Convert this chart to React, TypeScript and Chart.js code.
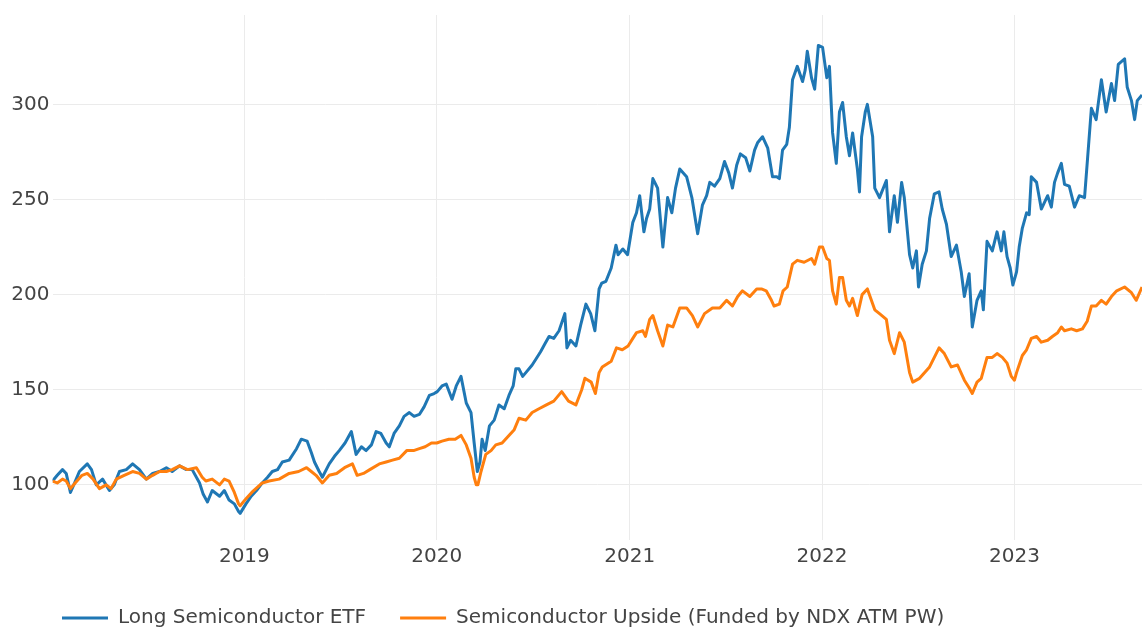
import React, { useEffect, useRef } from "react";
import { Chart, registerables } from "chart.js";

Chart.register(...registerables);

type P = [string, number];

// ---- Long Semiconductor ETF ----
const blue2018: P[] = [["2018-01-02",102],["2018-01-11",105],["2018-01-21",108],["2018-01-28",106],["2018-02-05",96],["2018-02-13",101],["2018-02-22",107],["2018-03-09",111],["2018-03-17",108],["2018-03-26",100],["2018-04-07",103],["2018-04-20",97],["2018-04-29",100],["2018-05-09",107],["2018-05-22",108],["2018-06-03",111],["2018-06-16",108],["2018-06-29",103],["2018-07-11",106],["2018-07-24",107],["2018-08-06",109],["2018-08-17",107],["2018-08-31",110],["2018-09-13",108],["2018-09-24",108],["2018-10-08",101],["2018-10-15",95],["2018-10-23",91],["2018-11-01",97],["2018-11-15",94],["2018-11-24",97],["2018-12-03",92],["2018-12-13",90],["2018-12-21",86],["2018-12-24",85]];
const blue2019: P[] = [["2019-01-04",90],["2019-01-14",94],["2019-01-24",97],["2019-02-04",101],["2019-02-14",104],["2019-02-23",107],["2019-03-05",108],["2019-03-14",112],["2019-03-27",113],["2019-04-10",119],["2019-04-19",124],["2019-04-30",123],["2019-05-08",117],["2019-05-14",112],["2019-05-23",107],["2019-05-29",104],["2019-06-11",111],["2019-06-21",115],["2019-06-30",118],["2019-07-11",122],["2019-07-23",128],["2019-08-01",116],["2019-08-11",120],["2019-08-20",118],["2019-08-30",121],["2019-09-08",128],["2019-09-17",127],["2019-09-27",122],["2019-10-03",120],["2019-10-12",127],["2019-10-22",131],["2019-10-31",136],["2019-11-10",138],["2019-11-19",136],["2019-11-29",137],["2019-12-08",141],["2019-12-18",147],["2019-12-27",148]];
const blue2020: P[] = [["2020-01-02",149],["2020-01-11",152],["2020-01-19",153],["2020-01-30",145],["2020-02-07",152],["2020-02-16",157],["2020-02-26",143],["2020-03-06",138],["2020-03-12",122],["2020-03-18",107],["2020-03-23",112],["2020-03-27",124],["2020-04-02",118],["2020-04-10",131],["2020-04-19",134],["2020-04-28",142],["2020-05-08",140],["2020-05-17",147],["2020-05-25",152],["2020-05-30",161],["2020-06-05",161],["2020-06-12",157],["2020-06-18",159],["2020-06-30",163],["2020-07-07",166],["2020-07-16",170],["2020-07-24",174],["2020-08-01",178],["2020-08-10",177],["2020-08-20",181],["2020-08-31",190],["2020-09-04",172],["2020-09-11",176],["2020-09-21",173],["2020-09-30",184],["2020-10-10",195],["2020-10-19",190],["2020-10-27",181],["2020-11-04",203],["2020-11-09",206],["2020-11-17",207],["2020-11-27",214],["2020-12-06",226],["2020-12-10",221],["2020-12-19",224],["2020-12-28",221]];
const blue2021: P[] = [["2021-01-07",238],["2021-01-14",243],["2021-01-20",252],["2021-01-28",233],["2021-02-02",240],["2021-02-08",245],["2021-02-14",261],["2021-02-23",256],["2021-03-05",225],["2021-03-14",251],["2021-03-22",243],["2021-03-29",256],["2021-04-06",266],["2021-04-19",262],["2021-04-29",251],["2021-05-10",232],["2021-05-19",247],["2021-05-27",252],["2021-06-02",259],["2021-06-11",257],["2021-06-21",261],["2021-06-30",270],["2021-07-08",264],["2021-07-15",256],["2021-07-23",268],["2021-07-30",274],["2021-08-09",272],["2021-08-17",265],["2021-08-26",276],["2021-09-01",280],["2021-09-10",283],["2021-09-20",277],["2021-09-29",262],["2021-10-07",262],["2021-10-12",261],["2021-10-18",276],["2021-10-26",279],["2021-10-31",288],["2021-11-06",313],["2021-11-15",320],["2021-11-25",312],["2021-11-30",318],["2021-12-04",328],["2021-12-12",314],["2021-12-18",308],["2021-12-25",331]];
const blue2022: P[] = [["2022-01-02",330],["2022-01-10",314],["2022-01-15",320],["2022-01-21",285],["2022-01-28",269],["2022-02-03",296],["2022-02-09",301],["2022-02-16",283],["2022-02-22",273],["2022-02-28",285],["2022-03-09",266],["2022-03-13",254],["2022-03-17",283],["2022-03-24",296],["2022-03-28",300],["2022-04-07",283],["2022-04-11",256],["2022-04-20",251],["2022-05-03",260],["2022-05-09",233],["2022-05-18",252],["2022-05-24",238],["2022-06-01",259],["2022-06-06",251],["2022-06-16",221],["2022-06-22",214],["2022-06-29",223],["2022-07-03",204],["2022-07-10",216],["2022-07-18",223],["2022-07-24",240],["2022-08-02",253],["2022-08-11",254],["2022-08-17",245],["2022-08-25",237],["2022-09-03",220],["2022-09-13",226],["2022-09-22",212],["2022-09-28",199],["2022-10-07",211],["2022-10-13",183],["2022-10-22",197],["2022-10-30",202],["2022-11-03",192],["2022-11-10",228],["2022-11-20",223],["2022-11-29",233],["2022-12-07",223],["2022-12-12",233],["2022-12-18",220],["2022-12-24",214],["2022-12-29",205]];
const blue2023: P[] = [["2023-01-05",212],["2023-01-10",225],["2023-01-16",235],["2023-01-24",243],["2023-01-29",242],["2023-02-02",262],["2023-02-12",259],["2023-02-21",245],["2023-03-05",252],["2023-03-12",246],["2023-03-18",259],["2023-03-24",264],["2023-03-31",269],["2023-04-06",258],["2023-04-15",257],["2023-04-25",246],["2023-05-04",252],["2023-05-14",251],["2023-05-19",269],["2023-05-27",298],["2023-06-05",292],["2023-06-15",313],["2023-06-24",296],["2023-07-04",311],["2023-07-10",302],["2023-07-17",321],["2023-07-29",324],["2023-08-03",309],["2023-08-11",302],["2023-08-17",292],["2023-08-22",302],["2023-08-31",305]];

// ---- Semiconductor Upside (Funded by NDX ATM PW) ----
const orange2018: P[] = [["2018-01-02",102],["2018-01-11",101],["2018-01-21",103],["2018-01-28",102],["2018-02-05",98],["2018-02-14",101],["2018-02-27",105],["2018-03-09",106],["2018-03-20",103],["2018-04-01",98],["2018-04-14",100],["2018-04-23",98],["2018-05-03",103],["2018-05-18",105],["2018-06-03",107],["2018-06-16",106],["2018-06-29",103],["2018-07-11",105],["2018-07-24",107],["2018-08-06",107],["2018-08-17",108],["2018-08-31",110],["2018-09-15",108],["2018-10-02",109],["2018-10-13",104],["2018-10-20",102],["2018-11-01",103],["2018-11-15",100],["2018-11-24",103],["2018-12-03",102],["2018-12-13",96],["2018-12-21",90],["2018-12-24",89]];
const orange2019: P[] = [["2019-01-05",93],["2019-01-15",96],["2019-02-04",101],["2019-02-17",102],["2019-03-08",103],["2019-03-27",106],["2019-04-14",107],["2019-04-29",109],["2019-05-08",107],["2019-05-17",105],["2019-05-29",101],["2019-06-11",105],["2019-06-25",106],["2019-07-10",109],["2019-07-25",111],["2019-08-03",105],["2019-08-15",106],["2019-08-27",108],["2019-09-14",111],["2019-09-27",112],["2019-10-09",113],["2019-10-22",114],["2019-11-05",118],["2019-11-18",118],["2019-11-29",119],["2019-12-10",120],["2019-12-22",122]];
const orange2020: P[] = [["2020-01-01",122],["2020-01-11",123],["2020-01-24",124],["2020-02-05",124],["2020-02-16",126],["2020-02-26",121],["2020-03-06",114],["2020-03-12",104],["2020-03-16",100],["2020-03-19",100],["2020-03-25",107],["2020-04-03",116],["2020-04-13",118],["2020-04-22",121],["2020-05-04",122],["2020-05-17",126],["2020-05-27",129],["2020-06-05",135],["2020-06-18",134],["2020-06-30",138],["2020-07-13",140],["2020-07-27",142],["2020-08-10",144],["2020-08-25",149],["2020-09-07",144],["2020-09-21",142],["2020-10-02",150],["2020-10-08",156],["2020-10-20",154],["2020-10-28",148],["2020-11-04",159],["2020-11-10",162],["2020-11-27",165],["2020-12-07",172],["2020-12-18",171],["2020-12-29",173]];
const orange2021: P[] = [["2021-01-07",177],["2021-01-14",180],["2021-01-26",181],["2021-01-31",178],["2021-02-08",187],["2021-02-14",189],["2021-02-23",181],["2021-03-05",173],["2021-03-14",184],["2021-03-24",183],["2021-04-06",193],["2021-04-19",193],["2021-04-30",189],["2021-05-10",183],["2021-05-23",190],["2021-06-07",193],["2021-06-21",193],["2021-07-04",197],["2021-07-15",194],["2021-07-25",199],["2021-08-03",202],["2021-08-17",199],["2021-08-30",203],["2021-09-08",203],["2021-09-17",202],["2021-09-27",197],["2021-10-02",194],["2021-10-12",195],["2021-10-19",202],["2021-10-27",204],["2021-11-06",216],["2021-11-15",218],["2021-11-28",217],["2021-12-12",219],["2021-12-18",216],["2021-12-27",225]];
const orange2022: P[] = [["2022-01-02",225],["2022-01-10",219],["2022-01-15",218],["2022-01-21",202],["2022-01-28",195],["2022-02-03",209],["2022-02-09",209],["2022-02-16",197],["2022-02-22",194],["2022-02-28",198],["2022-03-09",189],["2022-03-18",200],["2022-03-28",203],["2022-04-11",192],["2022-04-20",190],["2022-05-03",187],["2022-05-09",176],["2022-05-18",169],["2022-05-28",180],["2022-06-06",175],["2022-06-16",159],["2022-06-22",154],["2022-07-05",156],["2022-07-24",162],["2022-08-11",172],["2022-08-21",169],["2022-09-03",162],["2022-09-15",163],["2022-09-28",155],["2022-10-07",151],["2022-10-13",148],["2022-10-22",154],["2022-10-30",156],["2022-11-10",167],["2022-11-20",167],["2022-11-29",169],["2022-12-09",167],["2022-12-18",164],["2022-12-26",157]];
const orange2023: P[] = [["2023-01-01",155],["2023-01-05",159],["2023-01-16",168],["2023-01-24",171],["2023-02-02",177],["2023-02-12",178],["2023-02-21",175],["2023-03-05",176],["2023-03-14",178],["2023-03-24",180],["2023-03-31",183],["2023-04-06",181],["2023-04-19",182],["2023-04-29",181],["2023-05-10",182],["2023-05-19",186],["2023-05-27",194],["2023-06-05",194],["2023-06-15",197],["2023-06-24",195],["2023-07-04",199],["2023-07-14",202],["2023-07-29",204],["2023-08-11",201],["2023-08-20",197],["2023-08-31",204]];

const seriesNames = ["Long Semiconductor ETF", "Semiconductor Upside (Funded by NDX ATM PW)"];
const seriesColors = ["#1f77b4", "#ff7f0e"];
const yearTicks = [2019, 2020, 2021, 2022, 2023];
const valueTicks = [100, 150, 200, 250, 300];
const startDate = "2018-01-02";
const endDate = "2023-08-31";

const ms = (d: string) => Date.parse(d + "T00:00:00Z");
const toXY = (pts: P[]) => pts.map(([d, v]) => ({ x: ms(d), y: v }));

const blueAll = [...blue2018, ...blue2019, ...blue2020, ...blue2021, ...blue2022, ...blue2023];
const orangeAll = [...orange2018, ...orange2019, ...orange2020, ...orange2021, ...orange2022, ...orange2023];

const legendShift = {
  id: "legendShift",
  afterLayout(chart: any) {
    if (chart.legend) chart.legend.left += 28;
  },
};

export default function App() {
  const ref = useRef<HTMLCanvasElement | null>(null);

  useEffect(() => {
    if (!ref.current) return;
    const font = "'DejaVu Sans', Verdana, sans-serif";
    const chart = new Chart(ref.current, {
      type: "line",
      data: {
        datasets: [
          {
            label: seriesNames[0],
            data: toXY(blueAll),
            borderColor: seriesColors[0],
            backgroundColor: seriesColors[0],
            borderWidth: 3,
            pointRadius: 0,
            tension: 0,
            borderJoinStyle: "round",
            order: 1,
          },
          {
            label: seriesNames[1],
            data: toXY(orangeAll),
            borderColor: seriesColors[1],
            backgroundColor: seriesColors[1],
            borderWidth: 3,
            pointRadius: 0,
            tension: 0,
            borderJoinStyle: "round",
            order: 0,
          },
        ],
      },
      plugins: [legendShift],
      options: {
        animation: false,
        responsive: false,
        devicePixelRatio: 1,
        parsing: false as any,
        layout: { padding: { left: 0, right: 0, top: 7, bottom: -6 } },
        plugins: {
          tooltip: { enabled: false },
          legend: {
            display: true,
            position: "bottom",
            align: "start",
            labels: {
              usePointStyle: true,
              pointStyle: "line",
              pointStyleWidth: 46,
              padding: 34,
              color: "#444",
              font: { family: font, size: 20 },
              sort: (a: any, b: any) => a.datasetIndex - b.datasetIndex,
            },
          },
        },
        scales: {
          x: {
            type: "linear",
            min: ms(startDate),
            max: ms(endDate),
            afterBuildTicks: (s: any) => {
              s.ticks = yearTicks.map((y) => ({ value: Date.UTC(y, 0, 1) }));
            },
            afterFit: (s: any) => {
              s.height = 34;
            },
            grid: { color: "#ebebeb", lineWidth: 1, drawTicks: false },
            border: { display: false },
            ticks: {
              padding: 5,
              color: "#444",
              font: { family: font, size: 20 },
              maxRotation: 0,
              autoSkip: false,
              callback: (v: any) => String(new Date(Number(v)).getUTCFullYear()),
            },
          },
          y: {
            type: "linear",
            min: 71,
            max: 347,
            afterBuildTicks: (s: any) => {
              s.ticks = valueTicks.map((v) => ({ value: v }));
            },
            afterFit: (s: any) => {
              s.width = 52.5;
            },
            grid: { color: "#ebebeb", lineWidth: 1, drawTicks: false },
            border: { display: false },
            ticks: {
              padding: 3,
              color: "#444",
              font: { family: font, size: 20 },
            },
          },
        },
      },
    });
    return () => chart.destroy();
  }, []);

  return (
    <div style={{ position: "absolute", left: 0, top: 0, width: 1142, height: 632, background: "#fff" }}>
      <canvas ref={ref} width={1142} height={632} style={{ display: "block" }} />
    </div>
  );
}
